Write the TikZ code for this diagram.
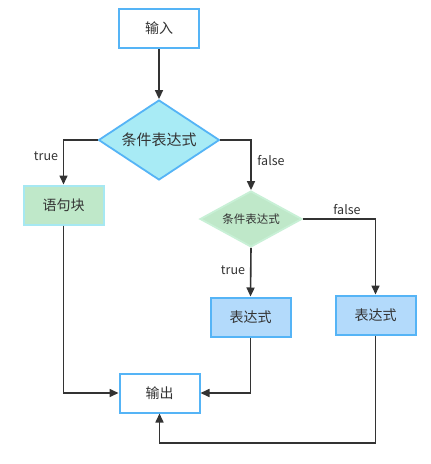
\documentclass[tikz,border=0pt]{standalone}
\usepackage{fontspec}
\setmainfont{Noto Sans CJK SC}
\usetikzlibrary{shapes.geometric,arrows.meta}
\definecolor{bblue}{HTML}{55B4F6}
\definecolor{cyanfill}{HTML}{A8EBF5}
\definecolor{greenfill}{HTML}{BFE8C9}
\definecolor{cyanborder}{HTML}{A6E8F2}
\definecolor{greenborder}{HTML}{C8F0D6}
\definecolor{bluefill}{HTML}{B3DAFB}
\definecolor{ink}{HTML}{333333}
\begin{document}
\begin{tikzpicture}[x=1pt,y=-1pt,
  box/.style={draw=bblue,line width=2pt,minimum width=80pt,minimum height=39pt,inner sep=0pt,text=ink,font=\fontsize{14}{16}\selectfont},
  cond/.style={diamond,draw=bblue,line width=1.8pt,fill=cyanfill,aspect=1.5,inner sep=0pt,text=ink,font=\fontsize{15}{17}\selectfont},
  link/.style={draw=ink,line width=1.6pt,-{Triangle[length=9pt,width=8pt]}},
  lab/.style={text=ink,font=\fontsize{12.5}{14}\selectfont,inner sep=0pt}]
\useasboundingbox (0,0) rectangle (431,464);
\fill[white] (0,0) rectangle (431,464);
\node[box,fill=white] (in) at (159,28.5) {输入};
\node[cond,minimum width=121pt,minimum height=80pt] (c1) at (159,140) {条件表达式};
\node[box,draw=cyanborder,fill=greenfill] (blk) at (63.5,205) {语句块};
\node[cond,draw=greenborder,fill=greenfill,minimum width=102pt,minimum height=56pt,font=\fontsize{11.5}{13}\selectfont] (c2) at (251,219) {条件表达式};
\node[box,fill=bluefill] (e1) at (250.5,317) {表达式};
\node[box,fill=bluefill] (e2) at (375.5,315) {表达式};
\node[box,fill=white] (out) at (159.5,393) {输出};
\coordinate (k3) at (e2.south |- 0,443);
\coordinate (k4) at (out.south |- 0,443);
\draw[link] (in) -- (c1);
\draw[link] (c1.west) -| (blk.north);
\draw[link] (c1.east) -| (c2.north);
\draw[link] (c2.east) -| (e2.north);
\draw[link] (c2.south) -- (e1.north);
\draw[link] (blk.south) |- (out.west);
\draw[link] (e1.south) |- (out.east);
\draw[link] (e2.south) -- (k3) -- (k4) -- (out.south);
\node[lab] (t1) at (46,156) {true};
\node[lab] (f1) at (271,161) {false};
\node[lab] (f2) at (347,210) {false};
\node[lab] (t2) at (233,270) {true};
\end{tikzpicture}
\end{document}
